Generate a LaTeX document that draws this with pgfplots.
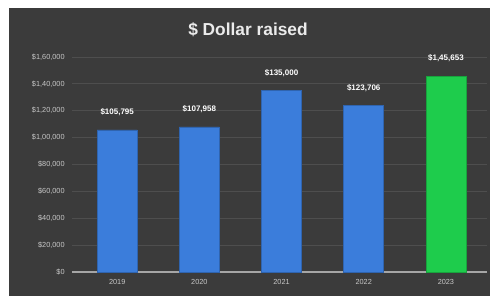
\documentclass[border=0pt]{standalone}
\usepackage{pgfplots}
\pgfplotsset{compat=1.18}
\usepackage{fontspec}
\setmainfont{Liberation Sans}
\definecolor{bgdark}{HTML}{3B3B3B}
\definecolor{gridc}{HTML}{4E4E4E}
\definecolor{barblue}{HTML}{3B7DDB}
\definecolor{bargreen}{HTML}{1ECC4C}
\definecolor{ticktxt}{HTML}{C8C8C8}
\begin{document}
\begin{tikzpicture}[x=1pt,y=1pt]
\useasboundingbox (0,0) rectangle (372,226.5);
\fill[white] (0,0) rectangle (372,226.5);
\fill[bgdark] (6.75,4.5) rectangle (367.5,220.5);
\node[text=white!92!black, font=\bfseries\fontsize{13}{15}\selectfont] at (186,204) {\$ Dollar raised};
\begin{axis}[
  at={(54pt,22.5pt)}, anchor=south west,
  width=311.25pt, height=161.25pt, scale only axis,
  xmin=-0.55, xmax=4.5, ymin=0, ymax=160000,
  xtick={0,1,2,3,4},
  xticklabels={2019,2020,2021,2022,2023},
  ytick={0,20000,40000,60000,80000,100000,120000,140000,160000},
  scaled y ticks=false,
  yticklabels={{\$0},{\$20,000},{\$40,000},{\$60,000},{\$80,000},{\$1,00,000},{\$1,20,000},{\$1,40,000},{\$1,60,000}},
  ymajorgrids, grid style={gridc, line width=0.6pt},
  axis x line*=bottom,
  axis y line*=left,
  x axis line style={draw=gray!70, line width=0.8pt},
  y axis line style={draw=none},
  ytick style={draw=none}, xtick style={draw=none},
  tick label style={text=ticktxt, font=\fontsize{5.5}{6}\selectfont},
  yticklabel style={anchor=east, xshift=-2pt},
  xticklabel style={yshift=-2pt},
  /pgf/number format/assume math mode=true,
  clip=false,
]
\addplot[ybar, bar width=30pt, fill=barblue, draw=barblue!80!black,
  point meta=explicit symbolic,
  nodes near coords, nodes near coords style={text=white, font=\bfseries\fontsize{6}{7}\selectfont, yshift=7pt}]
  coordinates {(0,105795)[\$105,795] (1,107958)[\$107,958] (2,135000)[\$135,000] (3,123706)[\$123,706]};
\addplot[ybar, bar width=30pt, fill=bargreen, draw=bargreen!80!black,
  point meta=explicit symbolic,
  nodes near coords, nodes near coords style={text=white, font=\bfseries\fontsize{6}{7}\selectfont, yshift=7pt}]
  coordinates {(4,145653)[\$1,45,653]};
\end{axis}
\end{tikzpicture}
\end{document}
